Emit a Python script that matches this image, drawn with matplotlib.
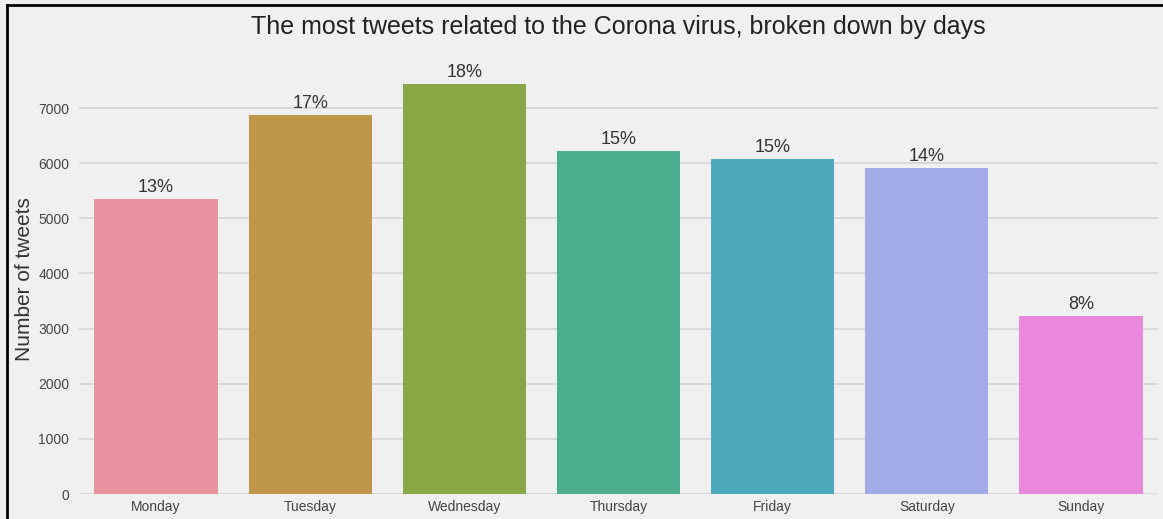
import matplotlib
matplotlib.use('Agg')
import matplotlib.pyplot as plt
import seaborn as sns
from matplotlib.lines import Line2D

days = ['Monday', 'Tuesday', 'Wednesday', 'Thursday', 'Friday', 'Saturday', 'Sunday']
tweets = [5350, 6873, 7435, 6220, 6075, 5912, 3228]
percent_labels = ['13%', '17%', '18%', '15%', '15%', '14%', '8%']

# bar colours as they look in the picture (a light husl palette)
bar_colors = ['#e9939f', '#c0974a', '#88a846', '#4aae8e', '#4caabb', '#a0abe8', '#e889de']

plt.rcParams['font.family'] = ['Liberation Sans', 'DejaVu Sans']

fig = plt.figure(figsize=(11.63, 5.19), dpi=100, facecolor='#f0f0f0')
ax = fig.add_axes([79 / 1163, 1 - 494 / 519, 1079 / 1163, (494 - 63.5) / 519])
ax.set_facecolor('#f0f0f0')

sns.barplot(x=days, y=tweets, hue=days, palette=bar_colors, saturation=1,
            legend=False, ax=ax, width=0.8)

for i, (val, lab) in enumerate(zip(tweets, percent_labels)):
    ax.text(i, val + 50, lab, ha='center', va='bottom', fontsize=13, color='#333333')

ax.set_xlim(-0.5, 6.5)
ax.set_ylim(0, 7807)
ax.set_yticks([0, 1000, 2000, 3000, 4000, 5000, 6000, 7000])
ax.yaxis.grid(True, color='#d4d4d4', linewidth=1.2)
ax.xaxis.grid(False)
ax.set_axisbelow(True)
for s in ax.spines.values():
    s.set_visible(False)
ax.tick_params(axis='both', length=0, labelsize=10, colors='#444444')
ax.tick_params(axis='y', pad=7)
ax.tick_params(axis='x', pad=4)
ax.set_ylabel('Number of tweets', fontsize=15, color='#333333')
ax.yaxis.set_label_coords(-45 / 1079, 0.5)

fig.text(0.532, 1 - 27 / 519, 'The most tweets related to the Corona virus, broken down by days',
         ha='center', va='center', fontsize=18, color='#222222')

# image frame on top and left
fig.add_artist(Line2D([7 / 1163, 1], [1 - 5 / 519, 1 - 5 / 519], color='black', linewidth=2,
                      transform=fig.transFigure))
fig.add_artist(Line2D([7 / 1163, 7 / 1163], [0, 1 - 5 / 519], color='black', linewidth=2,
                      transform=fig.transFigure))

fig.savefig('out.png', dpi=100, facecolor='#f0f0f0')
